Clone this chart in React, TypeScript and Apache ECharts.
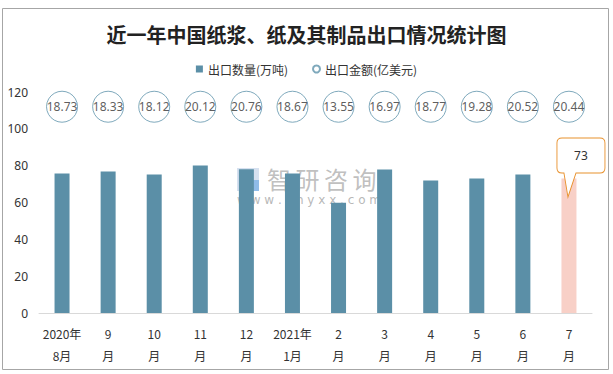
import React, { useEffect, useRef } from "react";
import * as echarts from "echarts";

const TITLE = "近一年中国纸浆、纸及其制品出口情况统计图";
const SERIES_QTY = "出口数量(万吨)";
const SERIES_AMT = "出口金额(亿美元)";
const categories = [
  "2020年\n8月", "9\n月", "10\n月", "11\n月", "12\n月", "2021年\n1月",
  "2\n月", "3\n月", "4\n月", "5\n月", "6\n月", "7\n月",
];
const quantities = [75.7, 76.8, 75.2, 80.1, 78.1, 75.7, 59.9, 77.9, 71.9, 73, 75.2, 73];
const amounts = [18.73, 18.33, 18.12, 20.12, 20.76, 18.67, 13.55, 16.97, 18.77, 19.28, 20.52, 20.44];
const yTicks = { min: 0, max: 120, interval: 20 };
const AMOUNT_ROW = 112; // vertical row where amount bubbles sit
const WATERMARK_CHARS = ["智", "研", "咨", "询"];
const WATERMARK_URL = "w w w . c h y x x . c o m";

const BAR = "#5b8fa7";
const HIGHLIGHT = "#f8d0c7";
const CALLOUT = "#e8912d";

const calloutPath =
  "path://M5,0 L43,0 Q48,0 48,5 L48,30 Q48,35 43,35 L19,35 L11,59 L7,35 L5,35 Q0,35 0,30 L0,5 Q0,0 5,0 Z";

export default function App() {
  const ref = useRef<HTMLDivElement>(null);
  useEffect(() => {
    if (!ref.current) return;
    const chart = echarts.init(ref.current, null, { renderer: "svg" });
    const last = quantities.length - 1;
    const wmFill = "rgba(175,175,175,0.8)";
    chart.setOption({
      animation: false,
      backgroundColor: "#fff",
      title: {
        text: TITLE,
        left: "center",
        top: 19,
        textStyle: {
          fontFamily: "Noto Sans CJK SC",
          fontSize: 20,
          fontWeight: "bold",
          color: "#222",
        },
      },
      legend: {
        top: 58,
        left: "center",
        itemWidth: 7,
        itemHeight: 7,
        itemGap: 24,
        textStyle: { fontFamily: "Noto Sans CJK SC", fontSize: 12, color: "#333" },
        data: [
          { name: SERIES_QTY, icon: "rect" },
          { name: SERIES_AMT, icon: "circle" },
        ],
      },
      graphic: [
        {
          type: "rect",
          shape: { x: 2.5, y: 8.5, width: 606, height: 361 },
          style: { fill: "none", stroke: "#a6a6a6", lineWidth: 1 },
          z: -1,
        },
        {
          type: "group",
          x: 237,
          y: 166,
          z: 100,
          children: [
            { type: "rect", shape: { x: 0, y: 2, width: 22, height: 23 }, style: { fill: "rgba(200,215,235,0.75)" } },
            { type: "rect", shape: { x: 4, y: 6, width: 10, height: 5 }, style: { fill: "rgba(255,255,255,0.85)" } },
            { type: "rect", shape: { x: 4, y: 14, width: 5, height: 7 }, style: { fill: "rgba(255,255,255,0.85)" } },
            { type: "rect", shape: { x: 13, y: 14, width: 9, height: 11 }, style: { fill: "rgba(120,175,230,0.75)" } },
            ...WATERMARK_CHARS.map((ch, i) => ({
              type: "text",
              x: 30 + i * 28.5,
              y: 0,
              style: { text: ch, font: "24px 'Noto Sans CJK SC'", fill: wmFill },
            })),
            {
              type: "text",
              x: 0,
              y: 28,
              style: {
                text: WATERMARK_URL,
                font: "12px 'DejaVu Sans'",
                fill: "rgba(165,165,165,0.8)",
              },
            },
          ],
        },
      ],
      grid: { left: 39, right: 21, top: 92, bottom: 61 },
      xAxis: {
        type: "category",
        data: categories,
        axisTick: { show: false },
        axisLine: { lineStyle: { color: "#d9d9d9" } },
        axisLabel: {
          interval: 0,
          margin: 9,
          lineHeight: 22,
          fontFamily: "Noto Sans CJK SC",
          fontSize: 12,
          color: "#333",
        },
      },
      yAxis: {
        type: "value",
        min: yTicks.min,
        max: yTicks.max,
        interval: yTicks.interval,
        splitLine: { show: false },
        axisLine: { show: false },
        axisTick: { show: false },
        axisLabel: { margin: 11, fontFamily: "Noto Sans", fontSize: 12, color: "#333" },
      },
      series: [
        {
          name: SERIES_QTY,
          type: "bar",
          barWidth: 15,
          itemStyle: { color: BAR },
          data: quantities.map((v, i) =>
            i === last ? { value: v, itemStyle: { color: HIGHLIGHT } } : v
          ),
          markPoint: {
            symbol: calloutPath,
            symbolSize: [48, 59],
            symbolOffset: [12, -11],
            itemStyle: { color: "#fff", borderColor: CALLOUT, borderWidth: 1 },
            label: {
              show: true,
              formatter: "{c}",
              offset: [0, -12],
              color: "#333",
              fontFamily: "Noto Sans",
              fontSize: 12,
            },
            data: [{ coord: [last, quantities[last]], value: quantities[last] }],
          },
        },
        {
          name: SERIES_AMT,
          type: "scatter",
          symbol: "circle",
          symbolSize: 31,
          itemStyle: { color: "#fff", borderColor: "#5f93ab", borderWidth: 1 },
          label: {
            show: true,
            position: "inside",
            formatter: (p: any) => amounts[p.dataIndex].toFixed(2),
            color: "#333",
            fontFamily: "Noto Sans",
            fontSize: 12,
          },
          data: amounts.map((_, i) => [i, AMOUNT_ROW]),
        },
      ],
    });
    return () => chart.dispose();
  }, []);
  return (
    <div
      ref={ref}
      style={{ position: "absolute", left: 0, top: 0, width: 613, height: 374 }}
    />
  );
}
